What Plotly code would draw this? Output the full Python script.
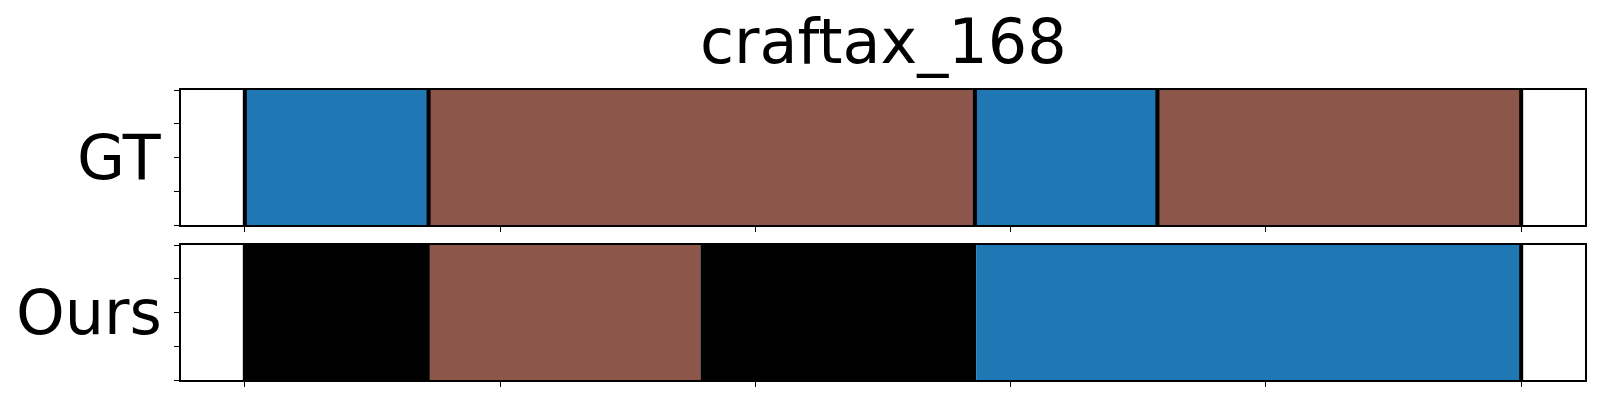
import plotly.graph_objects as go

# Segment boundaries (in % of sequence length) and labels
gt_bounds = [0, 14.4, 57.2, 71.5, 100]
gt_colors = ["#1f77b4", "#8c564b", "#1f77b4", "#8c564b"]
ours_bounds = [0, 14.5, 35.7, 57.3, 100]
ours_colors = ["#000000", "#8c564b", "#000000", "#1f77b4"]
gt_lines = [0, 14.4, 57.2, 71.5, 100]
ours_lines = [0, 100]
row_labels = ["GT", "Ours"]
title_text = "craftax_168"
x_ticks = [0, 20, 40, 60, 80, 100]
y_ticks = [0, 0.25, 0.5, 0.75, 1]

FONT = "DejaVu Sans"
fig = go.Figure()

def add_row(bounds, colors, lines, xa, ya):
    starts = bounds[:-1]
    widths = [b - a for a, b in zip(bounds[:-1], bounds[1:])]
    for s, w, c in zip(starts, widths, colors):
        fig.add_trace(go.Bar(
            x=[w], base=[s], y=[0.5], width=[1], orientation="h",
            marker=dict(color=c, line=dict(width=0)),
            xaxis=xa, yaxis=ya, showlegend=False, hoverinfo="skip"))
    for v in lines:
        fig.add_trace(go.Scatter(
            x=[v, v], y=[0, 1], mode="lines",
            line=dict(color="black", width=4),
            xaxis=xa, yaxis=ya, showlegend=False, hoverinfo="skip"))

add_row(gt_bounds, gt_colors, gt_lines, "x", "y")
add_row(ours_bounds, ours_colors, ours_lines, "x2", "y2")

axis_common = dict(showline=True, mirror=True, linecolor="black", linewidth=1.5,
                   showgrid=False, zeroline=False, ticks="outside", ticklen=5,
                   tickwidth=1, tickcolor="black", showticklabels=False)

fig.update_layout(
    width=1600, height=400,
    margin=dict(l=173, r=23, t=82, b=28),
    plot_bgcolor="white", paper_bgcolor="white",
    barmode="overlay",
    xaxis=dict(domain=[0, 1], range=[-5, 105], tickvals=x_ticks, anchor="y", **axis_common),
    yaxis=dict(domain=[0.5345, 1], range=[0, 1], tickvals=y_ticks, anchor="x", **axis_common),
    xaxis2=dict(domain=[0, 1], range=[-5, 105], tickvals=x_ticks, anchor="y2", matches="x", **axis_common),
    yaxis2=dict(domain=[0, 0.4655], range=[0, 1], tickvals=y_ticks, anchor="x2", **axis_common),
    annotations=[
        dict(text=title_text, x=0.5, y=1, xref="paper", yref="paper", xanchor="center",
             yanchor="bottom", yshift=10, showarrow=False, font=dict(family=FONT, size=62, color="black")),
        dict(text=row_labels[0], x=0, y=0.5, xref="paper", yref="y domain", xanchor="right",
             yanchor="middle", xshift=-17, showarrow=False, font=dict(family=FONT, size=62, color="black")),
        dict(text=row_labels[1], x=0, y=0.5, xref="paper", yref="y2 domain", xanchor="right",
             yanchor="middle", xshift=-17, showarrow=False, font=dict(family=FONT, size=62, color="black")),
    ],
)

fig.write_html("out.html")
